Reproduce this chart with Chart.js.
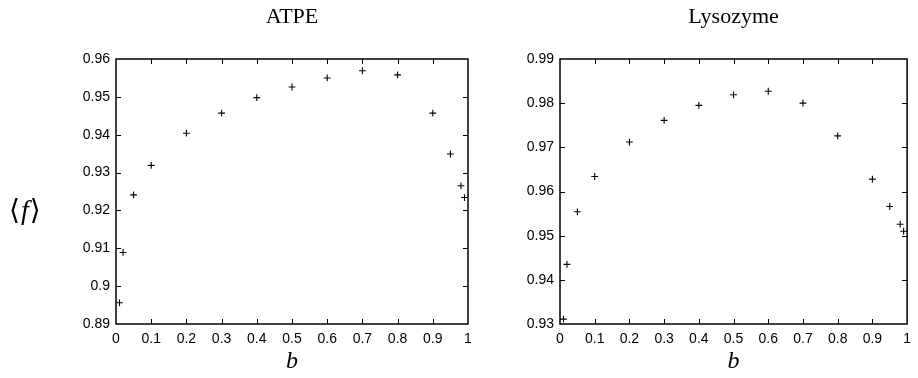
<!DOCTYPE html>
<html>
<head>
<meta charset="utf-8">
<script src="https://cdn.jsdelivr.net/npm/chart.js@4"></script>
<style>
  body { margin: 0; background: #fff; }
  #wrap { position: relative; width: 918px; height: 378px; }
  canvas { position: absolute; left: 0; top: 0; }
  #ylab { position: absolute; left: 9px; top: 193px; font: 28px "Liberation Serif", "DejaVu Serif", serif; color: #000; white-space: nowrap; letter-spacing: 1px; }
  #ylab i { font-style: italic; }
</style>
</head>
<body>
<div id="wrap">
  <canvas id="atpe" width="918" height="378"></canvas>
  <canvas id="lyso" width="918" height="378"></canvas>
  <div id="ylab">⟨<i>f</i>⟩</div>
</div>
<script>
// b values shared by both panels
const bValues = [0.01, 0.02, 0.05, 0.1, 0.2, 0.3, 0.4, 0.5, 0.6, 0.7, 0.8, 0.9, 0.95, 0.98, 0.99];

// <f>
const atpeF = [0.8956, 0.9089, 0.9241, 0.9319, 0.9404, 0.9457, 0.9498, 0.9526, 0.9550, 0.9569, 0.9558, 0.9457, 0.9349, 0.9265, 0.9234];
const lysoF = [0.9311, 0.9435, 0.9554, 0.9634, 0.9712, 0.9761, 0.9795, 0.9819, 0.9827, 0.9800, 0.9726, 0.9628, 0.9566, 0.9526, 0.9510];

const titles = ['ATPE', 'Lysozyme'];
const xLabel = 'b';
const atpeRange = [0.89, 0.96];
const lysoRange = [0.93, 0.99];

const TICK = 5;

// gnuplot style frame with inward ticks on all four sides
const frameTicks = {
  id: 'frameTicks',
  afterDraw(chart) {
    const { ctx, chartArea: a, scales } = chart;
    ctx.save();
    ctx.strokeStyle = '#000';
    ctx.lineWidth = 1;
    ctx.beginPath();
    scales.x.ticks.forEach(t => {
      const px = Math.round(scales.x.getPixelForValue(t.value)) + 0.5;
      if (px <= a.left + 1 || px >= a.right - 1) return;
      ctx.moveTo(px, a.bottom); ctx.lineTo(px, a.bottom - TICK);
      ctx.moveTo(px, a.top); ctx.lineTo(px, a.top + TICK);
    });
    scales.y.ticks.forEach(t => {
      const py = Math.round(scales.y.getPixelForValue(t.value)) + 0.5;
      if (py <= a.top + 1 || py >= a.bottom - 1) return;
      ctx.moveTo(a.left, py); ctx.lineTo(a.left + TICK, py);
      ctx.moveTo(a.right, py); ctx.lineTo(a.right - TICK, py);
    });
    ctx.stroke();
    ctx.lineWidth = 1.5;
    ctx.strokeRect(a.left, a.top, a.right - a.left, a.bottom - a.top);
    ctx.restore();
  }
};

const fmt = v => String(+Number(v).toFixed(2));

function makeChart(id, title, values, range, padLeft, padRight) {
  return new Chart(document.getElementById(id), {
    type: 'scatter',
    data: {
      datasets: [{
        data: bValues.map((b, i) => ({ x: b, y: values[i] })),
        pointStyle: 'cross',
        pointRadius: 3.4,
        pointBorderWidth: 1.1,
        borderColor: '#000',
        backgroundColor: '#000'
      }]
    },
    options: {
      responsive: false,
      animation: false,
      layout: { padding: { left: padLeft, right: padRight, top: 0, bottom: 0 } },
      plugins: {
        legend: { display: false },
        tooltip: { enabled: false },
        title: {
          display: true,
          text: title,
          fullSize: false,
          color: '#000',
          font: { family: '"Liberation Serif", serif', size: 22, weight: 'normal', lineHeight: 1.2 },
          padding: { top: 4, bottom: 28.6 }
        }
      },
      scales: {
        x: {
          type: 'linear',
          min: 0, max: 1,
          border: { display: false },
          grid: { display: false, drawTicks: false },
          ticks: {
            stepSize: 0.1, padding: 7, color: '#000',
            font: { family: '"Liberation Sans", Arial, sans-serif', size: 14 },
            callback: fmt, maxRotation: 0, autoSkip: false
          },
          title: {
            display: true, text: xLabel, color: '#000',
            font: { family: '"Liberation Serif", serif', size: 24, style: 'italic' },
            padding: { top: 0, bottom: 2 }
          },
          afterFit(s) { s.height = 54; }
        },
        y: {
          min: range[0], max: range[1],
          border: { display: false },
          grid: { display: false, drawTicks: false },
          ticks: {
            stepSize: 0.01, padding: 6, color: '#000',
            font: { family: '"Liberation Sans", Arial, sans-serif', size: 14 },
            callback: fmt, autoSkip: false
          },
          afterFit(s) { s.width = 60; }
        }
      }
    },
    plugins: [frameTicks]
  });
}

makeChart('atpe', titles[0], atpeF, atpeRange, 56, 450);
makeChart('lyso', titles[1], lysoF, lysoRange, 500, 6);
</script>
</body>
</html>
